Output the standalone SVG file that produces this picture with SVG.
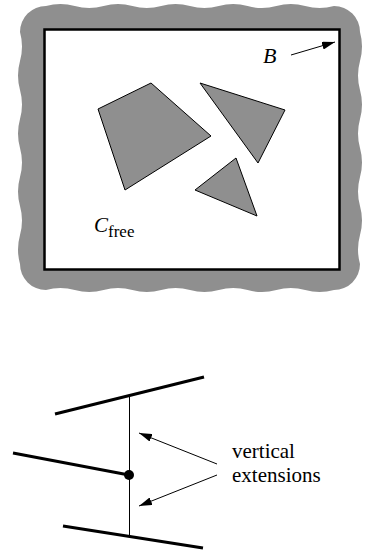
<svg xmlns="http://www.w3.org/2000/svg" width="365" height="550" viewBox="0 0 365 550">
<style>
.obs{fill:#8f8f8f;stroke:#000;stroke-width:1;stroke-linejoin:miter}
.seg{stroke:#000;stroke-width:3;fill:none}
.thin{stroke:#000;stroke-width:1;fill:none}
</style>
<defs>
<marker id="ah" viewBox="0 0 13 8" refX="13" refY="4" markerWidth="13" markerHeight="8" markerUnits="userSpaceOnUse" orient="auto">
<path d="M0,0 L13,4 L0,8 Z" fill="#000"/>
</marker>
</defs>
<g id="boundary">
<path fill="#8f8f8f" d="M46,6 q14.4,-4 28.8,0 t28.8,0 t28.8,0 t28.8,0 t28.8,0 t28.8,0 t28.8,0 t28.8,0 t28.8,0 t28.8,0 A26,26 0 0 1 360,32 q4,14.5 0,29 t0,29 t0,29 t0,29 t0,29 t0,29 t0,29 t0,29 A26,26 0 0 1 334,290 q-14.4,4 -28.8,0 t-28.8,0 t-28.8,0 t-28.8,0 t-28.8,0 t-28.8,0 t-28.8,0 t-28.8,0 t-28.8,0 t-28.8,0 A26,26 0 0 1 20,264 q-4,-14.5 0,-29 t0,-29 t0,-29 t0,-29 t0,-29 t0,-29 t0,-29 t0,-29 A26,26 0 0 1 46,6 Z"/>
<rect x="44.5" y="29.5" width="295" height="240" fill="#fff" stroke="#000" stroke-width="2.5"/>
</g>
<g id="obstacle1"><polygon class="obs" points="98,109 151,83 211,136 125,190"/></g>
<g id="obstacle2"><polygon class="obs" points="200,83 285,110 258,163"/></g>
<g id="obstacle3"><polygon class="obs" points="195,190 236,158 257,216"/></g>
<g id="label-B"><text x="263" y="63" font-family="Liberation Serif, serif" font-size="22" font-style="italic">B</text></g>
<g id="label-cfree"><text x="94" y="232" font-family="Liberation Serif, serif" font-size="21" font-style="italic">C<tspan font-size="17" font-style="normal" dy="5">free</tspan></text></g>
<g id="segments">
<line class="seg" x1="55" y1="414" x2="204" y2="377"/>
<line class="seg" x1="13" y1="453" x2="129" y2="475"/>
<line class="seg" x1="63" y1="526" x2="203" y2="548"/>
<circle cx="129" cy="475" r="5" fill="#000"/>
</g>
<g id="label-vext" font-family="Liberation Serif, serif" font-size="21"><text x="232" y="458">vertical</text><text x="232" y="482">extensions</text></g>
<g id="connectors">
<line class="thin" x1="129.5" y1="397" x2="129.5" y2="535"/>
<line class="thin" x1="291" y1="55" x2="335" y2="42" marker-end="url(#ah)"/>
<line class="thin" x1="217" y1="464" x2="139" y2="433" marker-end="url(#ah)"/>
<line class="thin" x1="217" y1="475" x2="139" y2="506" marker-end="url(#ah)"/>
</g>
</svg>
